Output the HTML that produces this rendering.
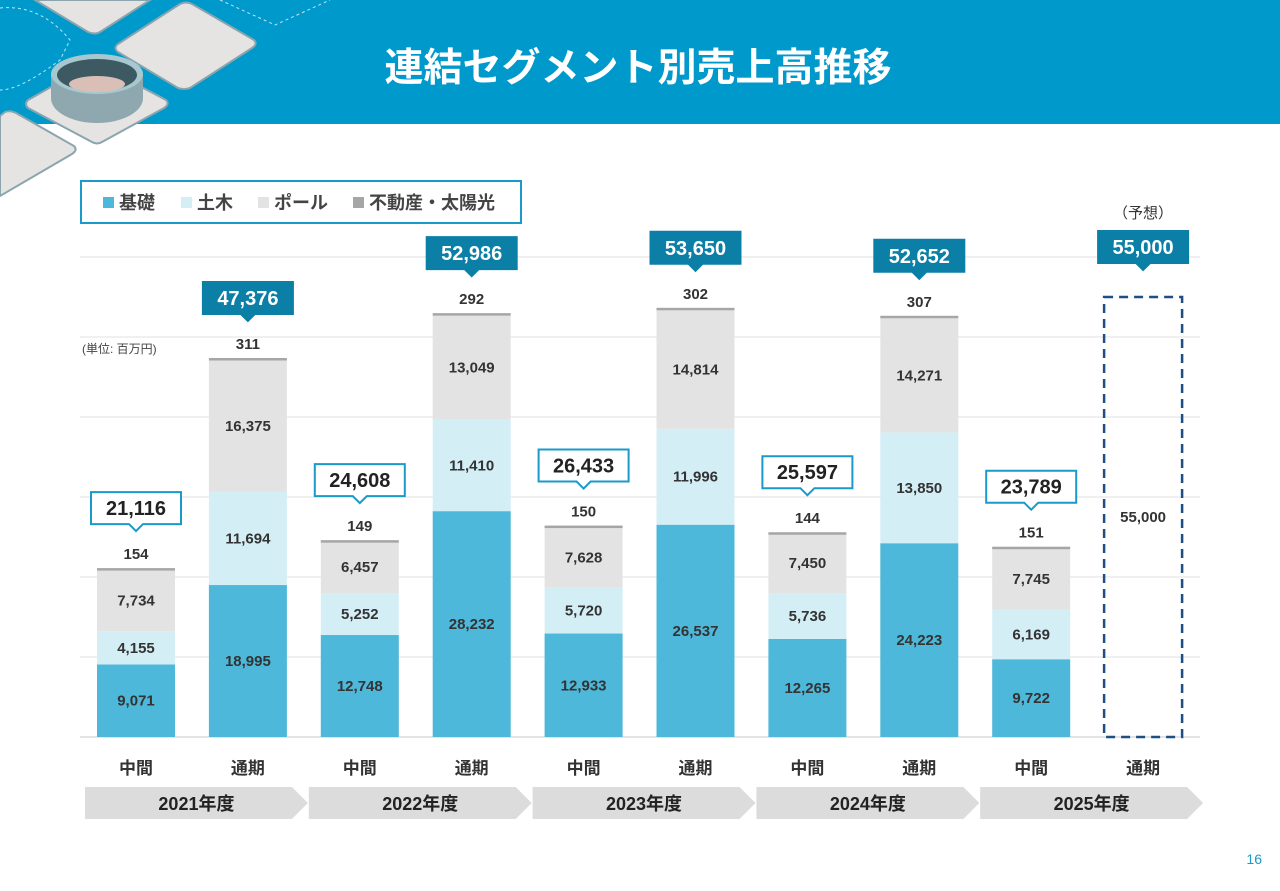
<!DOCTYPE html>
<html><head><meta charset="utf-8">
<style>
body{margin:0;width:1280px;height:886px;overflow:hidden;background:#fff;font-family:"Liberation Sans","Noto Sans CJK JP",sans-serif;}
svg text{font-family:"Liberation Sans","Noto Sans CJK JP",sans-serif;}
</style></head>
<body>
<svg id="chart" width="1280" height="886" viewBox="0 0 1280 886" xmlns="http://www.w3.org/2000/svg">
  <rect x="0" y="0" width="1280" height="124" fill="#0099cc"/>
  <g>
    <path d="M0 8 Q40 4 70 40 L60 60 Q20 90 0 90" fill="none" stroke="#bfe6f3" stroke-width="1" stroke-dasharray="3,3"/>
    <path d="M220 0 L275 25 L330 0" fill="none" stroke="#bfe6f3" stroke-width="1" stroke-dasharray="3,3"/>
    <path d="M35 0 L150 0 L100 32 Q95 35 88 32 Z" fill="#e6e3e3" stroke="#8aa5ad" stroke-width="2"/>
    <path d="M118 44 L180 4 Q186 1 192 4 L254 40 Q258 44 252 48 L190 88 Q184 90 178 88 L118 52 Q113 48 118 44Z" fill="#e6e3e3" stroke="#8aa5ad" stroke-width="2"/>
    <path d="M28 100 L90 65 Q95 62 100 65 L166 100 Q170 104 164 108 L102 142 Q97 145 92 142 L28 108 Q24 104 28 100Z" fill="#e6e3e3" stroke="#8aa5ad" stroke-width="2"/>
    <ellipse cx="97" cy="98" rx="46" ry="25" fill="#8fa7ae"/>
    <rect x="51" y="74" width="92" height="24" fill="#8fa7ae"/>
    <ellipse cx="97" cy="74" rx="46" ry="20" fill="#a8c8cf"/>
    <ellipse cx="97" cy="75" rx="40" ry="16" fill="#3d5a63"/>
    <ellipse cx="97" cy="84" rx="28" ry="8" fill="#d9bfb5"/>
    <path d="M0 116 L5 112 Q10 110 16 113 L74 146 Q78 150 72 154 L0 196 Z" fill="#e6e3e3" stroke="#8aa5ad" stroke-width="2"/>
  </g>
  <text x="638" y="81" text-anchor="middle" font-size="39" font-weight="bold" fill="#fff">連結セグメント別売上高推移</text>
  <g>
    <rect x="81" y="181" width="440" height="42" fill="#fff" stroke="#1a9ac9" stroke-width="2"/>
    <rect x="103" y="197" width="11" height="11" fill="#4db8d9"/><text x="119" y="209" font-size="18" font-weight="bold" fill="#444">基礎</text>
    <rect x="181" y="197" width="11" height="11" fill="#d4eef6"/><text x="197" y="209" font-size="18" font-weight="bold" fill="#444">土木</text>
    <rect x="258" y="197" width="11" height="11" fill="#e3e3e3"/><text x="274" y="209" font-size="18" font-weight="bold" fill="#444">ポール</text>
    <rect x="353" y="197" width="11" height="11" fill="#a6a6a6"/><text x="369" y="209" font-size="18" font-weight="bold" fill="#444">不動産・太陽光</text>
  </g>
  <text x="82" y="353" font-size="12" fill="#444">(単位: 百万円)</text>
  <text x="1143" y="218" text-anchor="middle" font-size="15" fill="#333">（予想）</text>
  <text x="1262" y="864" text-anchor="end" font-size="14" fill="#1a9ac9">16</text>
  <g id="grid"></g>
  <g id="bars"></g>
  <g id="labels"></g>
</svg>
<script>
const categories = ["中間","通期","中間","通期","中間","通期","中間","通期","中間","通期"];
const years = ["2021年度","2022年度","2023年度","2024年度","2025年度"];
const kiso = [9071,18995,12748,28232,12933,26537,12265,24223,9722,null];
const doboku = [4155,11694,5252,11410,5720,11996,5736,13850,6169,null];
const pole = [7734,16375,6457,13049,7628,14814,7450,14271,7745,null];
const fudosan = [154,311,149,292,150,302,144,307,151,null];
const totals = [21116,47376,24608,52986,26433,53650,25597,52652,23789,55000];
const forecast = 55000;
const gridTicks = [0,10000,20000,30000,40000,50000,60000];

const NS="http://www.w3.org/2000/svg";
const base=737, pxPer=0.008;
function y(v){return base - v*pxPer;}
function xc(i){return 136 + i*111.9;}
const bw=78;
function mk(tag,attrs,parent){const e=document.createElementNS(NS,tag);for(const k in attrs)e.setAttribute(k,attrs[k]);parent.appendChild(e);return e;}
const grid=document.getElementById('grid'), bars=document.getElementById('bars'), labels=document.getElementById('labels');
gridTicks.forEach(t=>{
  const l=mk('line',{x1:80,x2:1200,y1:y(t),y2:y(t),stroke:t===0?'#c8c8c8':'#e2e2e2','stroke-width':1},grid);
  
  
});
function txt(x,yy,s,size,fill,parent,name){const t=mk('text',{x:x,y:yy,'text-anchor':'middle','font-size':size,'font-weight':'bold',fill:fill},parent);t.textContent=s;return t;}
const fmt=v=>v.toLocaleString('en-US');
const segs=[[kiso,'#4db8d9','kiso'],[doboku,'#d4eef6','doboku'],[pole,'#e3e3e3','pole']];
categories.forEach((c,i)=>{
  const cx=xc(i);
  if(kiso[i]!==null){
    let acc=0;
    segs.forEach(([arr,col,nm])=>{
      const v=arr[i];
      const r=mk('rect',{x:cx-bw/2,y:y(acc+v),width:bw,height:v*pxPer,fill:col},bars);
      
      
      txt(cx,y(acc+v/2)+5,fmt(v),15,'#333',labels,'value-'+nm+'-'+i);
      acc+=v;
    });
    const f=fudosan[i];
    const r=mk('rect',{x:cx-bw/2,y:y(acc+f),width:bw,height:Math.max(f*pxPer,2.5),fill:'#a6a6a6'},bars);
    
    
    acc+=f;
    txt(cx,y(acc)-9,fmt(f),15,'#333',labels,'value-fudosan-'+i);
  } else {
    const r=mk('rect',{x:cx-bw/2,y:y(forecast),width:bw,height:forecast*pxPer,fill:'none',stroke:'#1f4e85','stroke-width':2.5,'stroke-dasharray':'9,6'},bars);
    
    
    txt(cx,y(forecast/2)+5,fmt(forecast),15,'#333',labels,'value-forecast');
  }
  const top = y(totals[i]);
  let bb = top-44;
  if(i===9) bb=263;
  const annual = (i%2===1);
  const w=90,h=32;
  const p=mk('path',{d:`M${cx-w/2} ${bb-h} H${cx+w/2} V${bb} H${cx+7} L${cx} ${bb+7} L${cx-7} ${bb} H${cx-w/2} Z`,
    fill:annual?'#0b7fa6':'#fff',stroke:annual?'#0b7fa6':'#1a9ac9','stroke-width':2},labels);
  
  
  txt(cx,bb-9,fmt(totals[i]),20,annual?'#fff':'#222',labels,'total-value-'+i);
  txt(cx,774,c,17,'#333',labels,'period-label-'+i);
});
years.forEach((yr,j)=>{
  const x0=xc(2*j)-51, x1=xc(2*j+1)+44;
  const p=mk('path',{d:`M${x0} 787 H${x1} L${x1+16} 803 L${x1} 819 H${x0} Z`,fill:'#dcdcdc'},labels);
  
  
  txt((x0+x1+16)/2,810,yr,18,'#222',labels,'year-label-'+j);
});
</script>
</body></html>
